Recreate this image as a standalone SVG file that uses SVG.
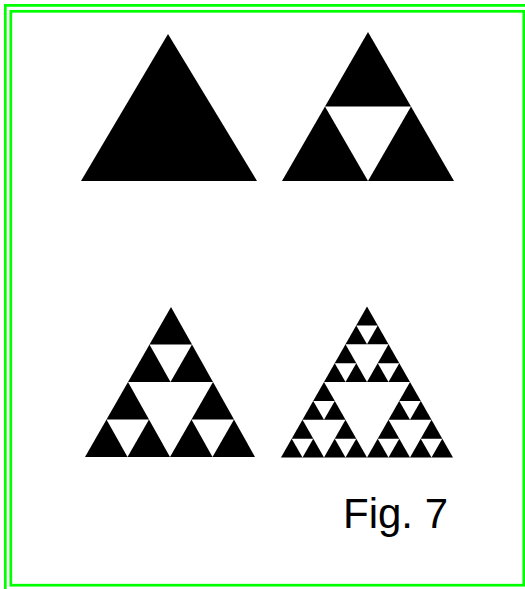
<svg xmlns="http://www.w3.org/2000/svg" width="525" height="589" viewBox="0 0 525 589">
<style>
.frame{fill:none;stroke:#00ff00;stroke-width:2.7}
.blk{fill:#000}
.wht{fill:#fff}
.lbl{font-family:"Liberation Sans",Arial,sans-serif;font-size:42px;fill:#000}
</style>
<rect x="0" y="0" width="525" height="589" fill="#fff"/>
<g id="border">
<path class="frame" d="M5.3,589 V5.3 H525"/>
<rect class="frame" x="10.8" y="11.3" width="513" height="573.9"/>
</g>
<g id="level0">
<polygon class="blk" points="168,34 81,181 257,181"/>
</g>
<g id="level1">
<polygon class="blk" points="368,32 282,181 454,181"/>
<polygon class="wht" points="325,106.5 411,106.5 368,181"/>
</g>
<g id="level2">
<polygon class="blk" points="171,307 85,457 255,457"/>
<polygon class="wht" points="128,382 213,382 170,457"/>
<polygon class="wht" points="149.5,344.5 192,344.5 170.5,382"/>
<polygon class="wht" points="106.5,419.5 149,419.5 127.5,457"/>
<polygon class="wht" points="191.5,419.5 234,419.5 212.5,457"/>
</g>
<g id="level3" transform="translate(367,306.5) scale(1.0178,1) translate(-367.5,-306)">
<polygon class="blk" points="367.5,306 283,457 452,457"/>
<polygon class="wht" points="325.25,381.5 409.75,381.5 367.5,457"/>
<polygon class="wht" points="346.375,343.75 388.625,343.75 367.5,381.5"/>
<polygon class="wht" points="304.125,419.25 346.375,419.25 325.25,457"/>
<polygon class="wht" points="388.625,419.25 430.875,419.25 409.75,457"/>
<polygon class="wht" points="356.94,324.88 378.06,324.88 367.5,343.75"/>
<polygon class="wht" points="335.81,362.63 356.94,362.63 346.375,381.5"/>
<polygon class="wht" points="378.06,362.63 399.19,362.63 388.625,381.5"/>
<polygon class="wht" points="314.69,400.38 335.81,400.38 325.25,419.25"/>
<polygon class="wht" points="293.56,438.13 314.69,438.13 304.125,457"/>
<polygon class="wht" points="335.81,438.13 356.94,438.13 346.375,457"/>
<polygon class="wht" points="399.19,400.38 420.31,400.38 409.75,419.25"/>
<polygon class="wht" points="378.06,438.13 399.19,438.13 388.625,457"/>
<polygon class="wht" points="420.31,438.13 441.44,438.13 430.875,457"/>
</g>
<g id="caption">
<text class="lbl" x="343" y="528">Fig. 7</text>
</g>
</svg>
